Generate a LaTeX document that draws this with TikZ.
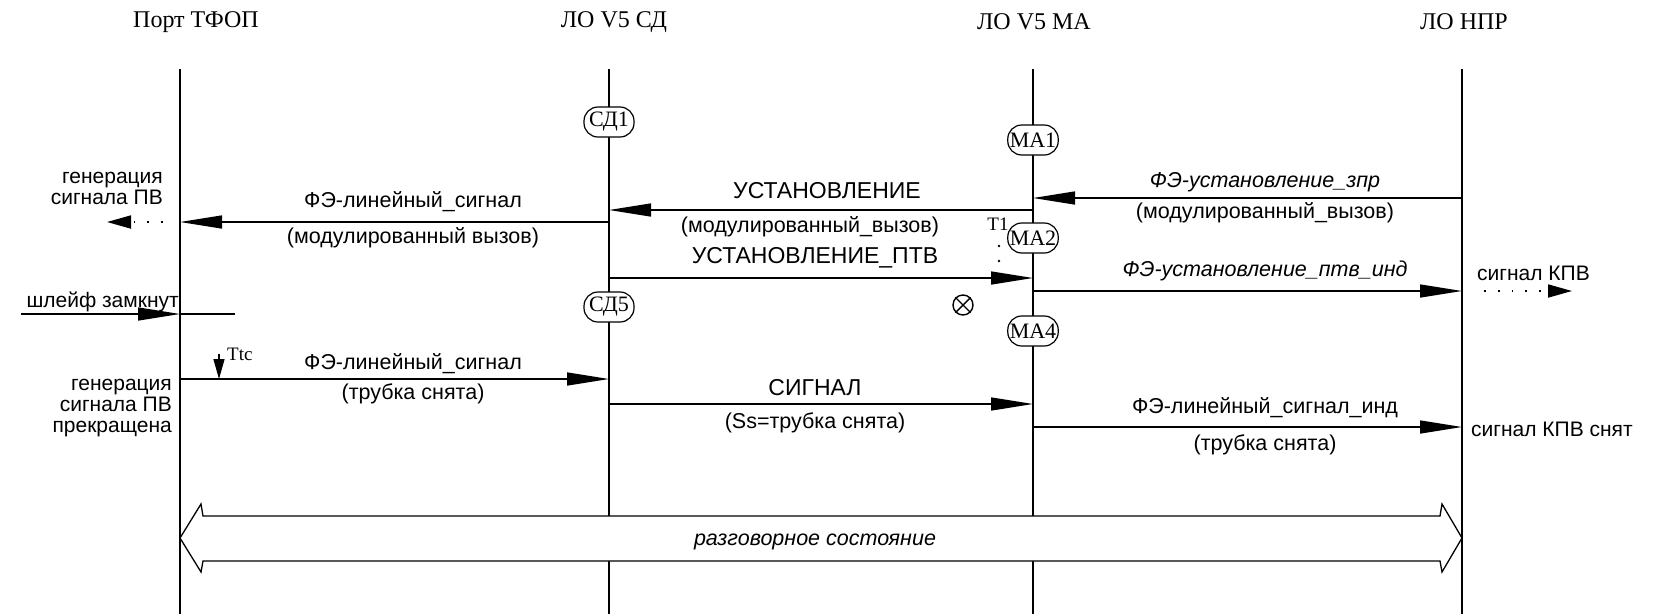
\documentclass[tikz,border=0pt]{standalone}
\usepackage{fontspec}
\setmainfont{Liberation Sans}
\newfontfamily\seriffam{Liberation Serif}
\usetikzlibrary{arrows.meta}
\begin{document}
\begin{tikzpicture}[x=1pt,y=-1pt,
  lifeline/.style={line width=1.2pt},
  msg/.style={line width=1.4pt,-{Triangle[length=42pt,width=13pt]}},
  lbl/.style={font=\fontsize{21.5}{24}\selectfont,inner sep=0pt},
  caps/.style={font=\fontsize{23}{25}\selectfont,inner sep=0pt},
  ilbl/.style={font=\itshape\fontsize{21.5}{24}\selectfont,inner sep=0pt},
  ttl/.style={font=\seriffam\fontsize{24}{26}\selectfont,inner sep=0pt},
  side/.style={font=\fontsize{21}{21}\selectfont,inner sep=0pt,align=right},
  statebox/.style={draw,rounded corners=14pt,line width=1.2pt,fill=white,minimum width=50pt,minimum height=30pt,inner sep=2pt,font=\seriffam\fontsize{22}{24}\selectfont},
  dotarrow/.style={line width=1.8pt,dash pattern=on 1.8pt off 12pt,-{Triangle[length=24pt,width=13pt,sep=4pt]}},
]
\useasboundingbox (0,0) rectangle (1660,614);

% titles
\node[ttl] (tA) at (196,22) {Порт ТФОП};
\node[ttl] (tB) at (614,22) {ЛО V5 СД};
\node[ttl] (tC) at (1034,22) {ЛО V5 МА};
\node[ttl] (tD) at (1464,22) {ЛО НПР};

% lifelines
\coordinate (A0) at (180,69); \coordinate (A1) at (180,614);
\coordinate (B0) at (609,69); \coordinate (B1) at (609,614);
\coordinate (C0) at (1033,69); \coordinate (C1) at (1033,614);
\coordinate (D0) at (1462,69); \coordinate (D1) at (1462,614);
\draw[lifeline] (A0) -- (A1);
\draw[lifeline] (B0) -- (B1);
\draw[lifeline] (C0) -- (C1);
\draw[lifeline] (D0) -- (D1);

% state boxes
\node[statebox] (sd1) at (609,122) {СД1};
\node[statebox] (ma1) at (1033,140) {МА1};
\node[statebox] (ma2) at (1033,238) {МА2};
\node[statebox] (sd5) at (609,307) {СД5};
\node[statebox] (ma4) at (1033,331) {МА4};

% message end points
\coordinate (m1s) at (1462,198); \coordinate (m1e) at (1033,198);
\coordinate (m2s) at (1033,210); \coordinate (m2e) at (609,210);
\coordinate (m3s) at (609,222);  \coordinate (m3e) at (180,222);
\coordinate (m4s) at (609,278);  \coordinate (m4e) at (1033,278);
\coordinate (m5s) at (1033,291); \coordinate (m5e) at (1462,291);
\coordinate (m6s) at (21,314);   \coordinate (m6e) at (180,314); \coordinate (m6x) at (235,314);
\coordinate (m7s) at (180,379);  \coordinate (m7e) at (609,379);
\coordinate (m8s) at (609,404);  \coordinate (m8e) at (1033,404);
\coordinate (m9s) at (1033,427); \coordinate (m9e) at (1462,427);

\draw[msg] (m1s) -- (m1e);
\draw[msg] (m2s) -- (m2e);
\draw[msg] (m3s) -- (m3e);
\draw[msg] (m4s) -- (m4e);
\draw[msg] (m5s) -- (m5e);
\draw[msg] (m6s) -- (m6e);
\draw[line width=1.4pt] (m6e) -- (m6x);
\draw[msg] (m7s) -- (m7e);
\draw[msg] (m8s) -- (m8e);
\draw[msg] (m9s) -- (m9e);

% message labels
\node[ilbl] (l1a) at (1265,182) {ФЭ-установление\_зпр};
\node[lbl]  (l1b) at (1265,213) {(модулированный\_вызов)};
\node[caps] (l2a) at (827,191) {УСТАНОВЛЕНИЕ};
\node[lbl]  (l2b) at (810,227) {(модулированный\_вызов)};
\node[lbl]  (l3a) at (413,202) {ФЭ-линейный\_сигнал};
\node[lbl]  (l3b) at (413,238) {(модулированный вызов)};
\node[caps] (l4a) at (815,258) {УСТАНОВЛЕНИЕ\_ПТВ};
\node[ilbl] (l5a) at (1265,271) {ФЭ-установление\_птв\_инд};
\node[lbl]  (l7a) at (413,364) {ФЭ-линейный\_сигнал};
\node[lbl]  (l7b) at (413,394) {(трубка снята)};
\node[caps] (l8a) at (815,388) {СИГНАЛ};
\node[lbl]  (l8b) at (815,423) {(Ss=трубка снята)};
\node[lbl]  (l9a) at (1265,408) {ФЭ-линейный\_сигнал\_инд};
\node[lbl]  (l9b) at (1265,445) {(трубка снята)};

% timer T1
\node[font=\seriffam\fontsize{19}{21}\selectfont,inner sep=0pt] (t1) at (998,224) {T1};
\fill (999,246) circle (1.3pt);
\fill (999,261) circle (1.3pt);
\node[draw,circle,line width=1.4pt,minimum size=20pt,inner sep=0pt] (otimes) at (963,305) {};
\draw[line width=1.4pt] (otimes.north west) -- (otimes.south east);
\draw[line width=1.4pt] (otimes.north east) -- (otimes.south west);

% Ttc
\coordinate (ttc0) at (219,354); \coordinate (ttc1) at (219,379);
\draw[line width=1.3pt,-{Triangle[length=20pt,width=11pt]}] (ttc0) -- (ttc1);
\node[font=\seriffam\fontsize{19}{21}\selectfont,inner sep=0pt,anchor=west] (ttc) at (227,354) {Ttc};

% side texts
\node[side,anchor=east] (g1) at (163,188) {генерация\\сигнала ПВ};
\coordinate (g1a) at (163,222); \coordinate (g1b) at (103,222);
\draw[dotarrow] (g1a) -- (g1b);
\node[side,anchor=east] (shl) at (179,302) {шлейф замкнут};
\node[side,anchor=east] (g2) at (172,408) {генерация\\сигнала ПВ\\прекращена};
\node[side,anchor=west] (kpv) at (1477,273) {сигнал КПВ};
\coordinate (k1a) at (1484,291); \coordinate (k1b) at (1576,291);
\draw[dotarrow] (k1a) -- (k1b);
\node[side,anchor=west] (kpv2) at (1471,429) {сигнал КПВ снят};

% talking-state band
\coordinate (bL) at (180,538); \coordinate (bR) at (1462,538);
\draw[line width=1.3pt,fill=white,line join=miter]
  (bL) -- (201,504) -- (203,516) -- (1440,516) -- (1442,504) -- (bR)
  -- (1442,572) -- (1440,561) -- (203,561) -- (201,572) -- cycle;
\node[ilbl] (talk) at (815,542) {разговорное состояние};
\end{tikzpicture}
\end{document}
